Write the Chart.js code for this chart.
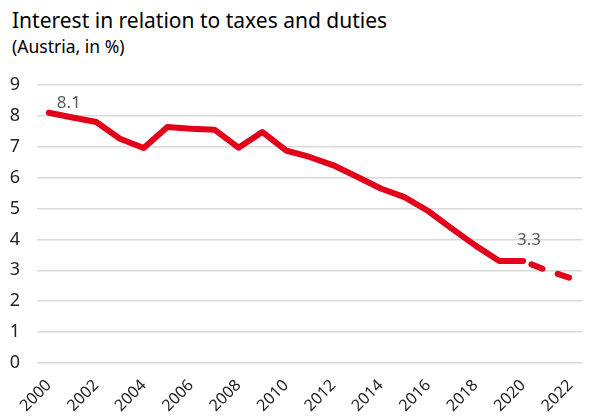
<!DOCTYPE html>
<html>
<head>
<meta charset="utf-8">
<script src="https://cdn.jsdelivr.net/npm/chart.js@4"></script>
<style>
  html, body { margin: 0; padding: 0; background: #fff; }
  #wrap { position: relative; width: 597px; height: 419px; }
  #title { position: absolute; left: 12px; top: 6px; font: 21px "Noto Sans", sans-serif; color: #000; white-space: nowrap; }
  #sub { position: absolute; left: 12px; top: 34px; font: 17.5px "Noto Sans", sans-serif; color: #000; white-space: nowrap; }
  canvas { position: absolute; left: 0; top: 0; }
</style>
</head>
<body>
<div id="wrap">
  <div id="title">Interest in relation to taxes and duties</div>
  <div id="sub">(Austria, in %)</div>
  <canvas id="chart" width="597" height="419"></canvas>
</div>
<script>
// Zinsen im Verhältnis zu Steuern und Abgaben, Österreich (%)
const years = ['2000','2001','2002','2003','2004','2005','2006','2007','2008','2009','2010',
               '2011','2012','2013','2014','2015','2016','2017','2018','2019','2020','2021','2022'];
const interestShare = [8.1, 7.95, 7.8, 7.26, 6.96, 7.64, 7.58, 7.55, 6.97, 7.48, 6.88,
                       6.67, 6.4, 6.03, 5.65, 5.37, 4.92, 4.35, 3.8, 3.3, 3.3, 3.0, 2.75];
const forecastFrom = 20;          // ab 2020 gestrichelt
const labelledIdx = [0, 20];      // Werte mit Beschriftung
const yTicks = [0, 1, 2, 3, 4, 5, 6, 7, 8, 9];

const RED = '#e2001a';
const FONT = '"Noto Sans", sans-serif';

// Datenbeschriftung (8.1 / 3.3)
const valueLabels = {
  id: 'valueLabels',
  afterDatasetsDraw(chart, args, opts) {
    const { ctx } = chart;
    const meta = chart.getDatasetMeta(0);
    ctx.save();
    ctx.font = '17px ' + FONT;
    ctx.fillStyle = '#595959';
    ctx.textAlign = 'center';
    ctx.textBaseline = 'middle';
    opts.items.forEach(it => {
      const p = meta.data[it.index];
      const v = chart.data.datasets[0].data[it.index];
      ctx.fillText(v.toFixed(1), p.x + it.dx, p.y + it.dy);
    });
    ctx.restore();
  }
};

new Chart(document.getElementById('chart'), {
  type: 'line',
  data: {
    labels: years,
    datasets: [{
      data: interestShare,
      borderColor: RED,
      borderWidth: 6,
      borderCapStyle: 'round',
      borderJoinStyle: 'round',
      pointRadius: 0,
      tension: 0,
      segment: {
        borderDash: c => c.p0DataIndex >= forecastFrom ? [12, 16] : undefined,
        borderDashOffset: c => c.p0DataIndex >= forecastFrom ? 19 : 0
      }
    }]
  },
  options: {
    responsive: false,
    animation: false,
    layout: { padding: { top: 85, right: 0, left: 0, bottom: 0 } },
    plugins: {
      legend: { display: false },
      tooltip: { enabled: false },
      valueLabels: {
        items: [
          { index: labelledIdx[0], dx: 20, dy: -10 },
          { index: labelledIdx[1], dx: 6, dy: -21 }
        ]
      }
    },
    scales: {
      x: {
        offset: true,
        grid: { display: false, drawTicks: false },
        border: { display: false },
        afterFit: s => { s.height = 56; },
        ticks: {
          autoSkip: false,
          maxRotation: 45, minRotation: 45,
          padding: 13,
          color: '#222',
          font: { family: FONT, size: 16 },
          callback: (v, i) => i % 2 === 0 ? years[i] : ''
        }
      },
      y: {
        min: 0, max: 9,
        afterFit: s => { s.width = 37; },
        afterBuildTicks: s => { s.ticks = yTicks.map(v => ({ value: v })); },
        grid: { color: '#d9d9d9', lineWidth: 1.5, drawTicks: false },
        border: { display: false },
        ticks: {
          padding: 17,
          color: '#222',
          font: { family: FONT, size: 18 }
        }
      }
    }
  },
  plugins: [valueLabels]
});
</script>
</body>
</html>
